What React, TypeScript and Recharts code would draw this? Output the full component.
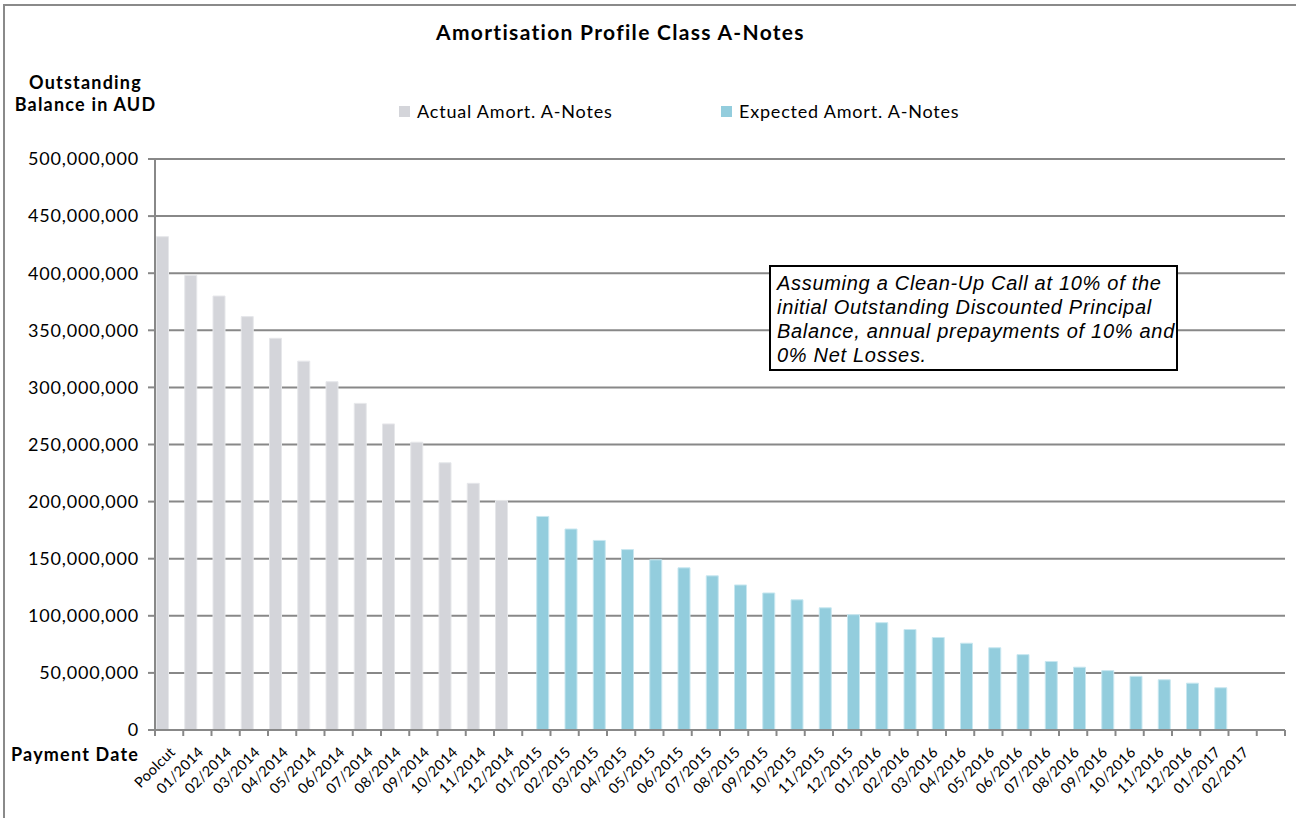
import { BarChart, Bar, XAxis, YAxis, CartesianGrid, Legend } from 'recharts';

// payment dates (last slot is an empty category, as in the source sheet)
const paymentDates = [
  'Poolcut',
  '01/2014', '02/2014', '03/2014', '04/2014', '05/2014', '06/2014',
  '07/2014', '08/2014', '09/2014', '10/2014', '11/2014', '12/2014',
  '01/2015', '02/2015', '03/2015', '04/2015', '05/2015', '06/2015',
  '07/2015', '08/2015', '09/2015', '10/2015', '11/2015', '12/2015',
  '01/2016', '02/2016', '03/2016', '04/2016', '05/2016', '06/2016',
  '07/2016', '08/2016', '09/2016', '10/2016', '11/2016', '12/2016',
  '01/2017', '02/2017', '',
];

// outstanding balance, AUD millions
const actualAmort = [432, 398, 380, 362, 343, 323, 305, 286, 268, 252, 234, 216, 201];
const expectedAmort = [
  187, 176, 166, 158, 149, 142, 135, 127, 120, 114, 107, 101,
  94, 88, 81, 76, 72, 66, 60, 55, 52, 47, 44, 41, 37,
];

const yTicks = [0, 50e6, 100e6, 150e6, 200e6, 250e6, 300e6, 350e6, 400e6, 450e6, 500e6];

const MIO = 1000000;
const data = paymentDates.map((date, i) => {
  const e = i - actualAmort.length;
  return {
    date,
    actual: i < actualAmort.length ? actualAmort[i] * MIO : null,
    expected: e >= 0 && e < expectedAmort.length ? expectedAmort[e] * MIO : null,
  };
});

const GRAY = '#d4d5da';
const BLUE = '#93cddd';
const LINE = '#888888';
const FONT = 'Lato, "Open Sans", sans-serif';

const PLOT_LEFT = 155;
const PLOT_RIGHT = 1285;
const HALF_BAND = (PLOT_RIGHT - PLOT_LEFT) / paymentDates.length / 2;

const DateTick = (props: any) => {
  const { x, y, payload, index } = props;
  const tx = x + 7;
  const ty = y + 23;
  return (
    <g>
      <line x1={x - HALF_BAND} x2={x - HALF_BAND} y1={y} y2={y + 6} stroke={LINE} strokeWidth={2} />
      {index === paymentDates.length - 1 && (
        <line x1={x + HALF_BAND} x2={x + HALF_BAND} y1={y} y2={y + 6} stroke={LINE} strokeWidth={2} />
      )}
      <text
        x={tx}
        y={ty}
        transform={`rotate(-45, ${tx}, ${ty})`}
        textAnchor="end"
        fontSize={14.5}
        fontFamily={FONT}
        letterSpacing={0.3}
        fill="#000"
      >
        {payload.value}
      </text>
    </g>
  );
};

const renderLegend = () => (
  <div style={{ display: 'flex', fontFamily: FONT, fontSize: 18, letterSpacing: 0.8, color: '#000' }}>
    <div style={{ display: 'flex', alignItems: 'center', width: 322 }}>
      <span style={{ width: 11, height: 11, background: GRAY, marginRight: 7 }} />
      Actual Amort. A-Notes
    </div>
    <div style={{ display: 'flex', alignItems: 'center' }}>
      <span style={{ width: 11, height: 11, background: BLUE, marginRight: 7 }} />
      Expected Amort. A-Notes
    </div>
  </div>
);

export default function App() {
  return (
    <div style={{ position: 'absolute', left: 0, top: 0, width: 1296, height: 818, background: '#fff', overflow: 'hidden' }}>
      <div
        style={{
          position: 'absolute', left: 3, top: 4, width: 1310, height: 830,
          border: '2px solid #8a8a8a', boxSizing: 'border-box',
        }}
      />
      <div
        style={{
          position: 'absolute', left: 0, top: 19, width: 1241, textAlign: 'center',
          fontFamily: FONT, fontWeight: 700, fontSize: 21, letterSpacing: 1.3,
        }}
      >
        Amortisation Profile Class A-Notes
      </div>
      <div
        style={{
          position: 'absolute', left: 0, top: 71, width: 171, textAlign: 'center',
          fontFamily: FONT, fontWeight: 700, fontSize: 18, letterSpacing: 1.2, lineHeight: '22px',
        }}
      >
        Outstanding
        <br />
        Balance in AUD
      </div>
      <div
        style={{
          position: 'absolute', left: 11, top: 743,
          fontFamily: FONT, fontWeight: 700, fontSize: 18, letterSpacing: 1.2, lineHeight: '22px',
        }}
      >
        Payment Date
      </div>

      <BarChart
        width={1296}
        height={818}
        data={data}
        margin={{ top: 159, right: 1296 - PLOT_RIGHT, bottom: 0, left: 8 }}
        barCategoryGap={1.5}
        barGap={1}
      >
        <CartesianGrid vertical={false} stroke={LINE} strokeWidth={2} />
        <XAxis
          dataKey="date"
          height={88}
          interval={0}
          tickLine={false}
          tickSize={0}
          tickMargin={0}
          axisLine={{ stroke: LINE, strokeWidth: 2 }}
          tick={<DateTick />}
        />
        <YAxis
          width={147}
          domain={[0, 500e6]}
          ticks={yTicks}
          interval={0}
          tickSize={7}
          tickMargin={9}
          axisLine={{ stroke: LINE, strokeWidth: 2 }}
          tickLine={{ stroke: LINE, strokeWidth: 2 }}
          tick={{ fill: '#000', fontSize: 18, fontFamily: FONT, letterSpacing: 0.8 }}
          tickFormatter={(v: number) => v.toLocaleString('en-US')}
        />
        <Legend
          verticalAlign="middle"
          align="center"
          layout="horizontal"
          content={renderLegend}
          wrapperStyle={{ position: 'absolute', top: 100, left: 399, width: 700 }}
        />
        <Bar dataKey="actual" name="Actual Amort. A-Notes" fill={GRAY} stroke="#e6e7ea" strokeWidth={1} isAnimationActive={false} />
        <Bar dataKey="expected" name="Expected Amort. A-Notes" fill={BLUE} stroke="#c8e7f0" strokeWidth={1} isAnimationActive={false} />
      </BarChart>

      <div
        style={{
          position: 'absolute', left: 769, top: 265, width: 409, height: 106,
          boxSizing: 'border-box', border: '2px solid #000', background: '#fff',
          padding: '4px 0 0 6px', whiteSpace: 'nowrap',
          fontFamily: '"Liberation Sans", Arial, sans-serif', fontStyle: 'italic',
          fontSize: 20, lineHeight: '24px', letterSpacing: 0.7, color: '#000',
        }}
      >
        Assuming a Clean-Up Call at 10% of the
        <br />
        initial Outstanding Discounted Principal
        <br />
        Balance, annual prepayments of 10% and
        <br />
        0% Net Losses.
      </div>
    </div>
  );
}
